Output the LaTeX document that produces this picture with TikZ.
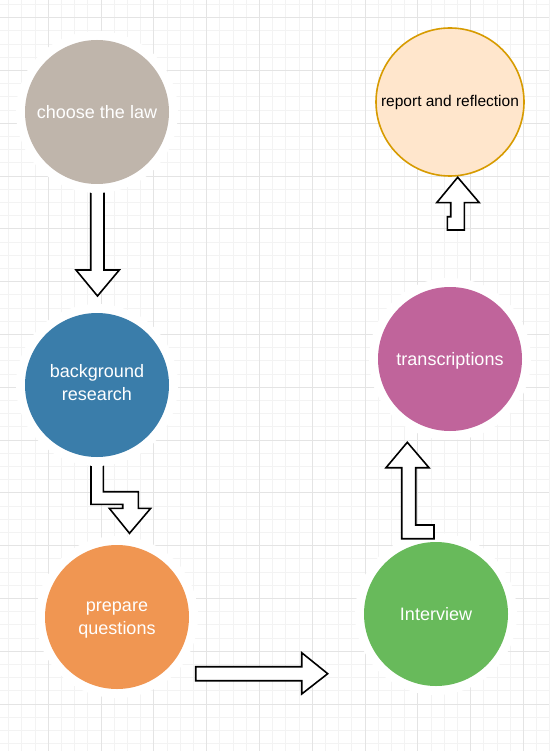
\documentclass[tikz,border=0pt]{standalone}
\usepackage{fontspec}
\setmainfont{Liberation Sans}
\definecolor{cchoose}{HTML}{BFB5AB}
\definecolor{cback}{HTML}{3A7DAA}
\definecolor{cprep}{HTML}{F09652}
\definecolor{cinter}{HTML}{68BA5B}
\definecolor{ctrans}{HTML}{C0649B}
\definecolor{crepfill}{HTML}{FFE6CC}
\definecolor{crepdraw}{HTML}{D79B00}
\definecolor{gmajor}{HTML}{E4E4E4}
\definecolor{gminor}{HTML}{F3F3F3}
\begin{document}
\begin{tikzpicture}[x=1pt,y=-1pt,
  minorline/.style={draw=gminor,line width=1pt},
  majorline/.style={draw=gmajor,line width=1pt},
  stepnode/.style={circle,inner sep=0pt,minimum size=144pt,
    preaction={draw=white,line width=18pt}},
  steptext/.style={text=white,font=\fontsize{18}{22.5}\selectfont,align=center},
  blockarrow/.style={draw=black,fill=white,line width=1.6pt,line join=miter}]
\useasboundingbox (0,0) rectangle (549,751);
\fill[white] (0,0) rectangle (549,751);
% grid
\foreach \i in {0,...,41} {\draw[minorline] ({8.7+\i*13.2},0) -- ({8.7+\i*13.2},751);}
\foreach \i in {0,...,57} {\draw[minorline] (0,{4.5+\i*13.2}) -- (549,{4.5+\i*13.2});}
\foreach \i in {0,...,10} {\draw[majorline] ({48.3+\i*52.8},0) -- ({48.3+\i*52.8},751);}
\foreach \i in {0,...,14} {\draw[majorline] (0,{17.7+\i*52.8}) -- (549,{17.7+\i*52.8});}
% block arrows hidden at their tails by the circles
\draw[blockarrow] (90.7,190) -- (90.7,270) -- (76,270) -- (97.5,296) -- (119.3,270) -- (104,270) -- (104,190) -- cycle;
\draw[blockarrow] (91,460) -- (91,504.3) -- (122.7,504.3) -- (122.7,508.3) -- (109.3,508.3) -- (129.5,533.3) -- (150.7,508.3) -- (138.3,508.3) -- (138.3,491.7) -- (103.3,491.7) -- (103.3,460) -- cycle;
% circles
\node[stepnode,fill=cchoose] (choose) at (97,112) {};
\node[stepnode,fill=cback] (back) at (97,385) {};
\node[stepnode,fill=cprep] (prep) at (117,617) {};
\node[stepnode,fill=cinter] (inter) at (436,614) {};
\node[stepnode,fill=ctrans] (trans) at (450,359) {};
\node[circle,inner sep=0pt,minimum size=148pt,fill=crepfill,draw=crepdraw,line width=1.6pt,
  font=\fontsize{15.5}{19}\selectfont] (report) at (450,102) {report and reflection};
% labels
\node[steptext] at ([yshift=0pt]choose.center) {choose the law};
\node[steptext] at ([yshift=2.5pt]back.center) {background\\research};
\node[steptext] at ([yshift=-3pt]prep.center) {prepare\\questions};
\node[steptext] at (inter.center) {Interview};
\node[steptext] at ([yshift=-1.5pt]trans.center) {transcriptions};
% block arrows drawn on top
\draw[blockarrow] (195.7,666.7) -- (301.7,666.7) -- (301.7,652.7) -- (327.7,673.7) -- (301.7,694) -- (301.7,680.7) -- (195.7,680.7) -- cycle;
\draw[blockarrow] (401.7,538.7) -- (401.7,467.7) -- (386,467.7) -- (407.3,442.3) -- (429,467.7) -- (415.7,467.7) -- (415.7,525) -- (434,525) -- (434,538.7) -- cycle;
\draw[blockarrow] (447.3,230) -- (447.3,216.7) -- (450.7,216.7) -- (450.7,202.7) -- (436.7,202.7) -- (457.7,177.3) -- (479.3,202.7) -- (464.3,202.7) -- (464.3,230) -- cycle;
\end{tikzpicture}
\end{document}
